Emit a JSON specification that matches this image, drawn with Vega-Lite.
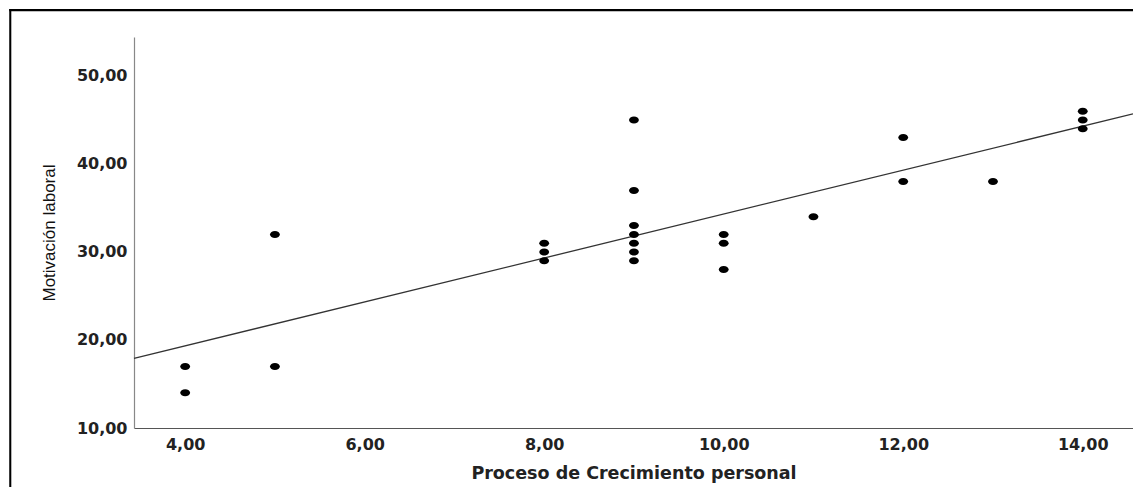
{
  "$schema": "https://vega.github.io/schema/vega-lite/v6.json",
  "autosize": {"type": "none"},
  "width": 999,
  "height": 391,
  "padding": {"left": 134, "top": 37, "right": 0, "bottom": 61},
  "background": "white",
  "config": {"view": {"stroke": null}},
  "datasets": {
    "points": [
      {"x": 4, "y": 17}, {"x": 4, "y": 14},
      {"x": 5, "y": 32}, {"x": 5, "y": 17},
      {"x": 8, "y": 31}, {"x": 8, "y": 30}, {"x": 8, "y": 29},
      {"x": 9, "y": 45}, {"x": 9, "y": 37}, {"x": 9, "y": 33}, {"x": 9, "y": 32}, {"x": 9, "y": 31}, {"x": 9, "y": 30}, {"x": 9, "y": 29},
      {"x": 10, "y": 32}, {"x": 10, "y": 31}, {"x": 10, "y": 28},
      {"x": 11, "y": 34},
      {"x": 12, "y": 43}, {"x": 12, "y": 38},
      {"x": 13, "y": 38},
      {"x": 14, "y": 46}, {"x": 14, "y": 45}, {"x": 14, "y": 44}
    ],
    "frame": [{"part": "border"}]
  },
  "layer": [
    {
      "data": {"name": "frame"},
      "mark": {"type": "rect", "color": "black", "clip": false},
      "encoding": {
        "x": {"datum": 2.04, "type": "quantitative", "scale": {"domain": [3.43, 14.56], "nice": false, "zero": false}},
        "x2": {"datum": 2.063},
        "y": {"datum": 57.6, "type": "quantitative", "scale": {"domain": [10, 54.43], "nice": false, "zero": false}},
        "y2": {"datum": 3.3}
      }
    },
    {
      "data": {"name": "frame"},
      "mark": {"type": "rect", "color": "black", "clip": false},
      "encoding": {
        "x": {"datum": 2.04, "type": "quantitative"},
        "x2": {"datum": 14.56},
        "y": {"datum": 57.6, "type": "quantitative"},
        "y2": {"datum": 57.37}
      }
    },
    {
      "data": {"name": "points"},
      "transform": [{"regression": "y", "on": "x", "extent": [3.43, 14.56]}],
      "mark": {"type": "line", "color": "#333", "strokeWidth": 1.3},
      "encoding": {
        "x": {"field": "x", "type": "quantitative"},
        "y": {"field": "y", "type": "quantitative"}
      }
    },
    {
      "data": {"name": "points"},
      "mark": {"type": "point", "filled": true, "color": "black", "opacity": 1, "size": 68, "shape": "M-1.2,0A1.2,0.85,0,1,1,1.2,0A1.2,0.85,0,1,1,-1.2,0Z"},
      "encoding": {
        "x": {"field": "x", "type": "quantitative",
          "axis": {"title": "Proceso de Crecimiento personal", "values": [4, 6, 8, 10, 12, 14],
            "labelExpr": "replace(format(datum.value, '.2f'), '.', ',')",
            "grid": false, "ticks": false, "domainColor": "#555", "domainWidth": 1.2,
            "labelFont": "DejaVu Sans", "labelFontSize": 16, "labelFontWeight": "bold", "labelColor": "#222",
            "labelPadding": 8, "titleFont": "DejaVu Sans", "titleFontSize": 17.5, "titleFontWeight": "bold",
            "titleColor": "#222", "titlePadding": 12}},
        "y": {"field": "y", "type": "quantitative",
          "axis": {"title": "Motivación laboral", "values": [10, 20, 30, 40, 50],
            "labelExpr": "replace(format(datum.value, '.2f'), '.', ',')",
            "grid": false, "ticks": false, "domainColor": "#888", "domainWidth": 1.2,
            "labelFont": "DejaVu Sans", "labelFontSize": 16, "labelFontWeight": "bold", "labelColor": "#222",
            "labelPadding": 7, "titleFont": "Liberation Sans", "titleFontSize": 17, "titleFontWeight": "normal",
            "titleColor": "#111", "titlePadding": 18}}
      }
    }
  ]
}
